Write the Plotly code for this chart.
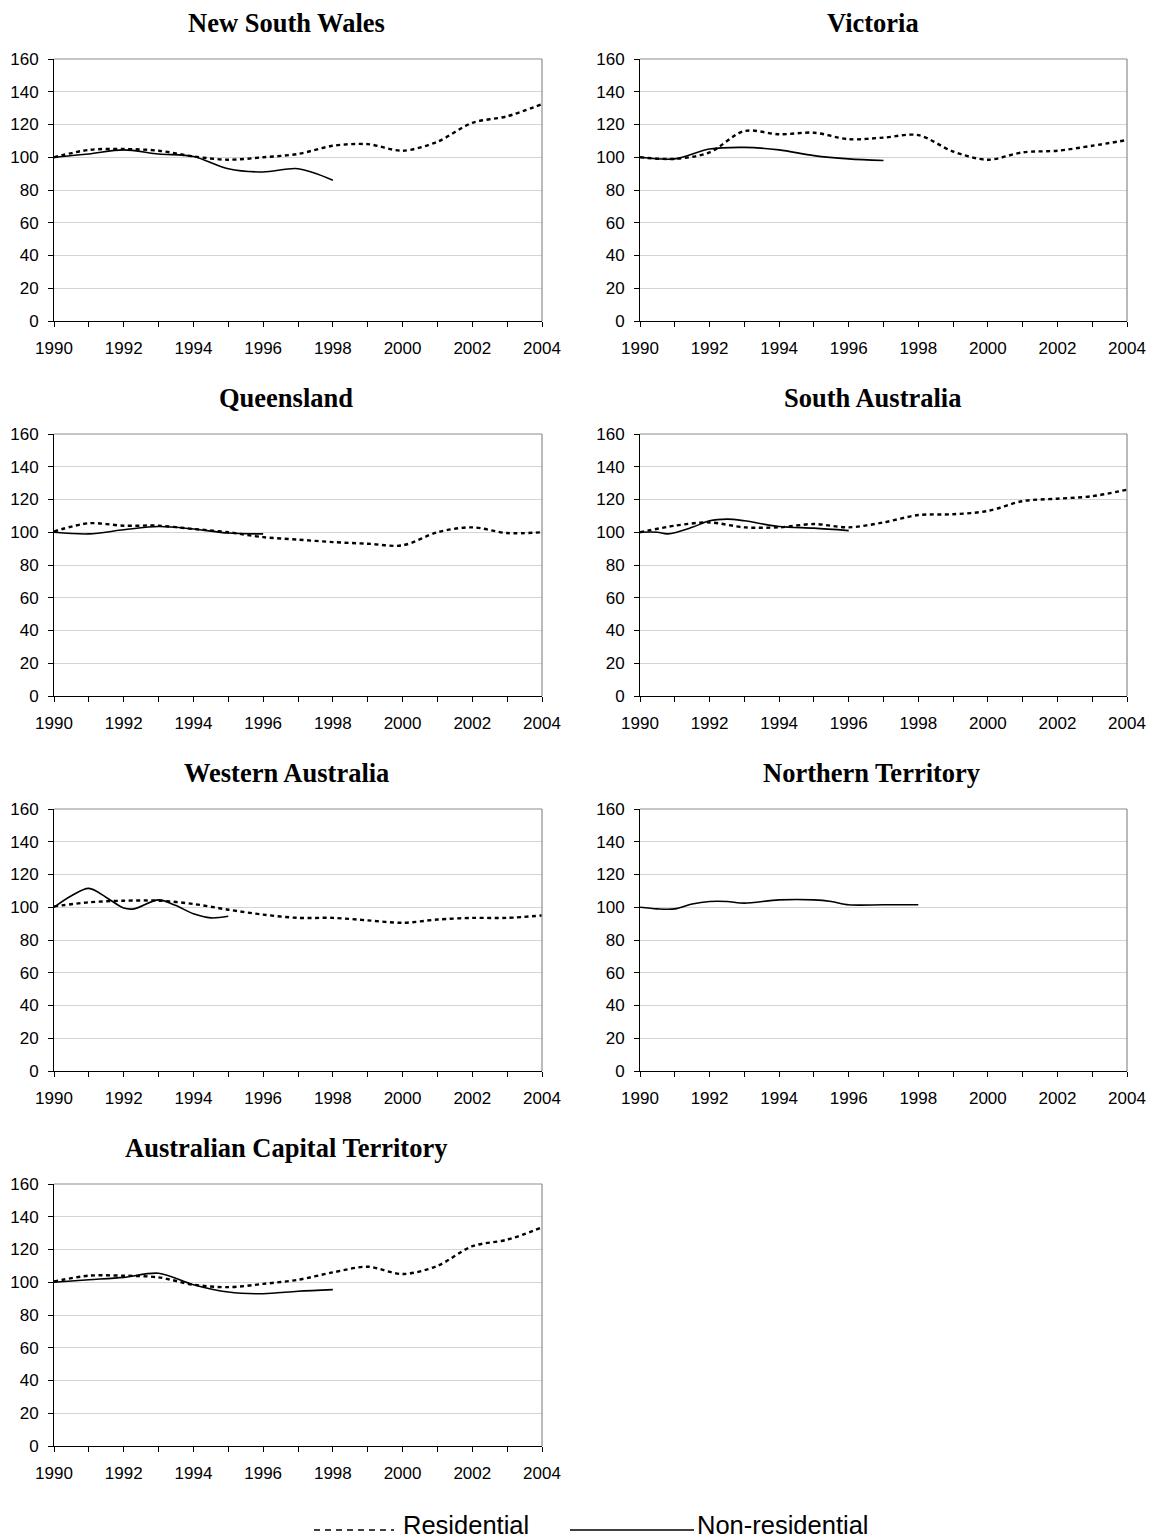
import plotly.graph_objects as go

# ---- data: index values (1990 = 100) ----
regions = ["New South Wales", "Victoria", "Queensland", "South Australia",
           "Western Australia", "Northern Territory", "Australian Capital Territory"]

years_full = [1990, 1991, 1992, 1993, 1994, 1995, 1996, 1997, 1998, 1999,
              2000, 2001, 2002, 2003, 2004]

nsw_res_x = years_full
nsw_res = [100, 104.5, 105, 104, 100.5, 98.5, 100, 102, 107, 108, 104, 109.5, 121, 125, 132.5]
nsw_non_x = [1990, 1991, 1992, 1993, 1994, 1995, 1996, 1997, 1998]
nsw_non = [100, 102, 104.5, 102, 100.5, 93, 91, 93, 86]

vic_res_x = years_full
vic_res = [100, 99, 103, 116, 114, 115, 111, 112, 113.5, 103.5, 98.5, 103, 104, 107, 110.5]
vic_non_x = [1990, 1991, 1992, 1993, 1994, 1995, 1996, 1997]
vic_non = [100, 99, 105, 106, 104.5, 101, 99, 98]

qld_res_x = years_full
qld_res = [100.5, 105.5, 104, 104, 102, 100, 97, 95.5, 94, 93, 92, 100, 103, 99.5, 100]
qld_non_x = [1990, 1991, 1992, 1993, 1994, 1995, 1996]
qld_non = [100, 99, 101.5, 103.5, 102, 99.5, 99]

sa_res_x = years_full
sa_res = [100, 104, 106, 103, 103, 105, 103, 106, 110.5, 111, 113, 119, 120.5, 122, 126]
sa_non_x = [1990, 1990.5, 1990.8, 1991.5, 1992, 1992.5, 1993, 1994, 1995, 1996]
sa_non = [100, 100, 99, 103, 107, 108, 107, 103.5, 102.5, 101]

wa_res_x = years_full
wa_res = [100.5, 103, 104, 104, 102, 98.5, 95.5, 93.5, 93.5, 92, 90.5, 92.5, 93.5, 93.5, 95]
wa_non_x = [1990, 1990.5, 1991, 1991.5, 1992, 1992.3, 1993, 1993.5, 1994, 1994.5, 1995]
wa_non = [100, 107, 111.5, 106, 99.5, 99, 104.5, 101, 96, 93.5, 94.5]

nt_res_x = []
nt_res = []
nt_non_x = [1990, 1990.5, 1991, 1991.5, 1992, 1992.5, 1993, 1994, 1995, 1995.5, 1996, 1997, 1998]
nt_non = [100, 99, 99, 102, 103.5, 103.5, 102.5, 104.5, 104.5, 103.5, 101.5, 101.5, 101.5]

act_res_x = years_full
act_res = [100.5, 104, 104, 103, 98.5, 97, 99, 101.5, 106, 109.5, 105, 110, 122, 126, 133.5]
act_non_x = [1990, 1991, 1992, 1993, 1994, 1995, 1996, 1997, 1998]
act_non = [100, 101.5, 103, 105.5, 98.5, 94, 93, 94.5, 95.5]

residential = [(nsw_res_x, nsw_res), (vic_res_x, vic_res), (qld_res_x, qld_res),
               (sa_res_x, sa_res), (wa_res_x, wa_res), (nt_res_x, nt_res),
               (act_res_x, act_res)]
non_residential = [(nsw_non_x, nsw_non), (vic_non_x, vic_non), (qld_non_x, qld_non),
                   (sa_non_x, sa_non), (wa_non_x, wa_non), (nt_non_x, nt_non),
                   (act_non_x, act_non)]

y_ticks = [0, 20, 40, 60, 80, 100, 120, 140, 160]
x_ticks = [1990, 1992, 1994, 1996, 1998, 2000, 2002, 2004]
legend_labels = ["Residential", "Non-residential"]

# ---- layout geometry (pixels) ----
W, H = 1158, 1539
COL_X = [(54, 542), (640, 1127)]
ROW_TOP, ROW_BOT, ROW_STEP = 59, 321, 375
TITLE_X = [286, 873, 286, 872, 286, 871, 286]
TITLE_Y0 = 23

SANS = "Liberation Sans, Arial, sans-serif"
SERIF = "Liberation Serif, Times New Roman, serif"

fig = go.Figure()
layout = {}
annotations = []
shapes = []

for i, name in enumerate(regions):
    n = i + 1
    sfx = "" if n == 1 else str(n)
    row, col = divmod(i, 2)
    x0, x1 = COL_X[col]
    top = ROW_TOP + ROW_STEP * row
    bot = ROW_BOT + ROW_STEP * row

    layout[f"xaxis{sfx}"] = dict(
        domain=[x0 / W, x1 / W], anchor=f"y{sfx}", range=[1990, 2004],
        automargin=False,
        tickmode="array", tickvals=x_ticks, ticks="outside", ticklen=5,
        tickcolor="black", tickwidth=1, ticklabelstandoff=7,
        minor=dict(dtick=1, tick0=1990, ticks="outside", ticklen=5,
                   tickcolor="black", tickwidth=1, showgrid=False),
        showline=True, linecolor="black", linewidth=1, showgrid=False,
        zeroline=False, tickfont=dict(family=SANS, size=17, color="black"),
        fixedrange=True,
    )
    layout[f"yaxis{sfx}"] = dict(
        domain=[1 - bot / H, 1 - top / H], anchor=f"x{sfx}", range=[0, 160],
        automargin=False,
        tickmode="array", tickvals=y_ticks, ticks="outside", ticklen=5,
        tickcolor="black", tickwidth=1, ticklabelstandoff=6,
        showline=True, linecolor="black",
        linewidth=1, showgrid=True, gridcolor="#d4d4d4", gridwidth=1,
        zeroline=False, tickfont=dict(family=SANS, size=17, color="black"),
        fixedrange=True,
    )

    # grey frame on the top and right of each plot area
    shapes.append(dict(type="line", xref=f"x{sfx} domain", yref=f"y{sfx} domain",
                       x0=0, x1=1, y0=1, y1=1, layer="above",
                       line=dict(color="#8c8c8c", width=1.2)))
    shapes.append(dict(type="line", xref=f"x{sfx} domain", yref=f"y{sfx} domain",
                       x0=1, x1=1, y0=0, y1=1, layer="above",
                       line=dict(color="#8c8c8c", width=1.2)))

    annotations.append(dict(
        text=f"<b>{name}</b>", xref="paper", yref="paper",
        x=TITLE_X[i] / W, y=1 - (TITLE_Y0 + ROW_STEP * row) / H,
        xanchor="center", yanchor="middle", showarrow=False,
        font=dict(family=SERIF, size=26.5, color="black"),
    ))

    rx, ry = residential[i]
    if rx:
        fig.add_trace(go.Scatter(
            x=rx, y=ry, xaxis=f"x{sfx}", yaxis=f"y{sfx}", mode="lines",
            name=legend_labels[0], showlegend=False,
            line=dict(color="black", width=2.4, dash="4px,3.5px",
                      shape="spline", smoothing=0.9),
        ))
    nx, ny = non_residential[i]
    if nx:
        fig.add_trace(go.Scatter(
            x=nx, y=ny, xaxis=f"x{sfx}", yaxis=f"y{sfx}", mode="lines",
            name=legend_labels[1], showlegend=False,
            line=dict(color="black", width=1.6, shape="spline", smoothing=0.9),
        ))

# ---- legend (drawn at the bottom) ----
LEG_Y = 1530
shapes.append(dict(type="line", xref="paper", yref="paper",
                   x0=314 / W, x1=394 / W, y0=1 - LEG_Y / H, y1=1 - LEG_Y / H,
                   line=dict(color="black", width=1.5, dash="6px,5px")))
shapes.append(dict(type="line", xref="paper", yref="paper",
                   x0=570 / W, x1=694 / W, y0=1 - LEG_Y / H, y1=1 - LEG_Y / H,
                   line=dict(color="black", width=1.5)))
annotations.append(dict(text=legend_labels[0], xref="paper", yref="paper",
                        x=401 / W, y=1 - 1525 / H, xanchor="left", yanchor="middle",
                        showarrow=False, font=dict(family=SANS, size=25.5, color="black")))
annotations.append(dict(text=legend_labels[1], xref="paper", yref="paper",
                        x=695 / W, y=1 - 1525 / H, xanchor="left", yanchor="middle",
                        showarrow=False, font=dict(family=SANS, size=25.5, color="black")))

fig.update_layout(
    width=W, height=H, margin=dict(l=0, r=0, t=0, b=0, autoexpand=False),
    paper_bgcolor="white", plot_bgcolor="white",
    showlegend=False, annotations=annotations, shapes=shapes,
    **layout,
)

fig.write_html("out.html", config={"displayModeBar": False})
